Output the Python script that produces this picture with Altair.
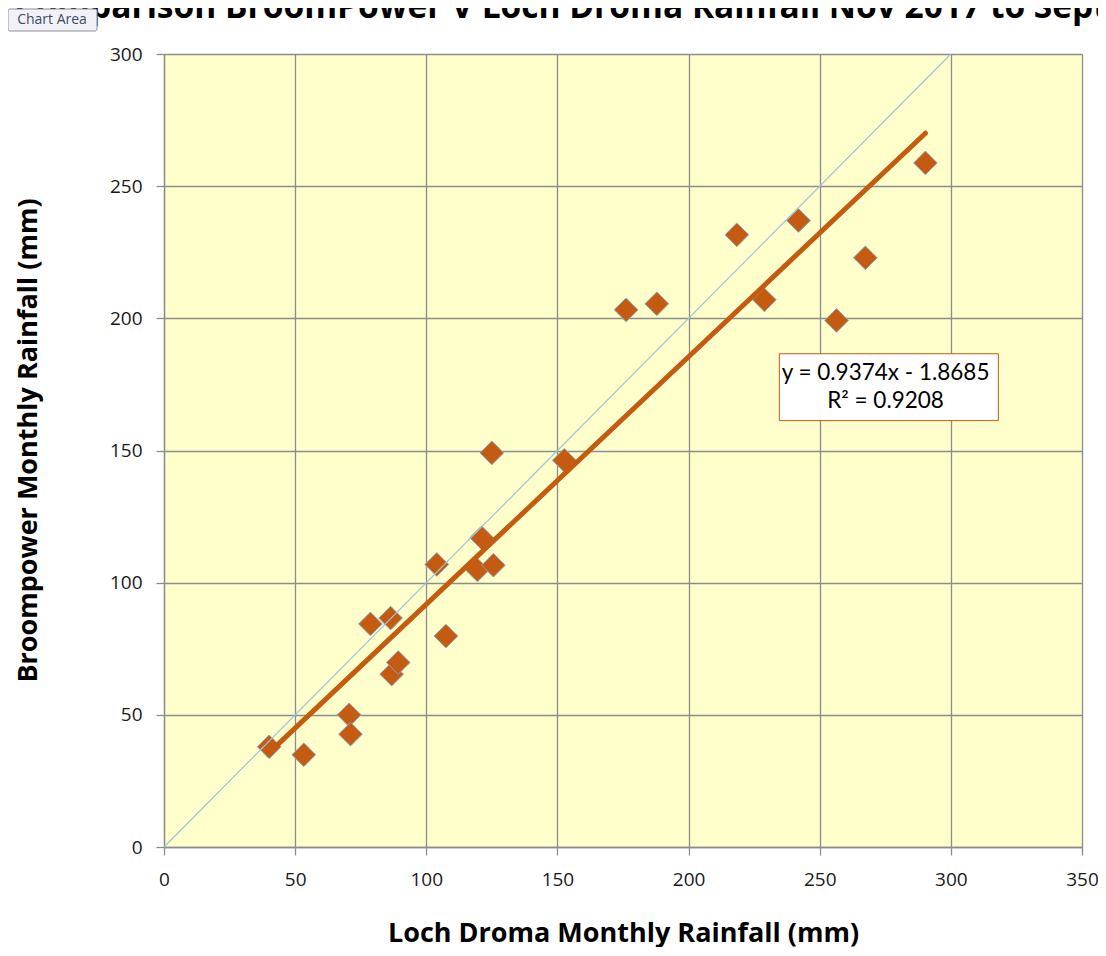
import altair as alt
import pandas as pd

# Monthly rainfall (mm), Nov 2017 - Sept 2019
loch_droma = [40.1, 53.3, 70.6, 71.1, 78.7, 86.4, 86.8, 89.3, 104.0, 107.5, 119.5, 121.1,
              125.0, 125.6, 152.6, 176.2, 187.9, 218.4, 228.9, 241.9, 256.4, 267.4, 290.3]
broompower = [37.9, 34.9, 50.0, 42.7, 84.4, 86.6, 65.4, 69.8, 106.9, 79.8, 104.8, 117.0,
              149.1, 106.6, 146.3, 203.2, 205.5, 231.6, 207.0, 237.0, 199.2, 222.9, 258.8]

diag_x = [0, 300]
diag_y = [0, 300]
x_ticks = [0, 50, 100, 150, 200, 250, 300, 350]
y_ticks = [0, 50, 100, 150, 200, 250, 300]

eq_lines = ["y = 0.9374x - 1.8685", "R² = 0.9208"]
eq_x = [275.1, 275.1]
eq_y = [179.4, 168.6]
box_x = [234.6, 318.1]
box_y = [161.3, 186.6]

title_text = ["Comparison BroomPower V Loch Droma Rainfall Nov 2017 to Sept 2019"]
tooltip_text = ["Chart Area"]

FONT = "Lato"
TFONT = "Open Sans"
ORANGE = "#C55A11"
GRID = "#8c8c8c"

df = pd.DataFrame({"loch": loch_droma, "broom": broompower})
diag_df = pd.DataFrame({"x": diag_x, "y": diag_y})
eq_df = pd.DataFrame({"t": eq_lines, "x": eq_x, "y": eq_y})
box_df = pd.DataFrame({"x": [box_x[0]], "x2": [box_x[1]], "y": [box_y[0]], "y2": [box_y[1]]})
title_df = pd.DataFrame({"t": title_text})
tip_df = pd.DataFrame({"t": tooltip_text})

xscale = alt.Scale(domain=[0, 350], nice=False, zero=True)
yscale = alt.Scale(domain=[0, 300], nice=False, zero=True)

xaxis = alt.Axis(values=x_ticks, title="Loch Droma Monthly Rainfall (mm)", grid=True,
                 gridColor=GRID, gridWidth=1.3, domainColor=GRID, domainWidth=1.3,
                 tickColor=GRID, tickSize=8, tickWidth=1.3, labelFlush=False,
                 labelFont=TFONT, labelFontSize=19, labelColor="#1a1a1a", labelPadding=15,
                 titleFont=TFONT, titleFontSize=27, titleFontWeight="bold", titleColor="#000000",
                 titleY=94, titleBaseline="alphabetic")
yaxis = alt.Axis(values=y_ticks, title="Broompower Monthly Rainfall (mm)", grid=True,
                 gridColor=GRID, gridWidth=1.3, domainColor=GRID, domainWidth=1.3,
                 tickColor=GRID, tickSize=8, tickWidth=1.3, labelFlush=False,
                 labelFont=TFONT, labelFontSize=19, labelColor="#1a1a1a", labelPadding=14,
                 titleFont=TFONT, titleFontSize=27, titleFontWeight="bold", titleColor="#000000",
                 titleAngle=270, titleX=-128, titleY=386, titleAlign="center",
                 titleBaseline="alphabetic")

points = alt.Chart(df).mark_point(
    shape="diamond", filled=True, size=560, fill=ORANGE, stroke="#8aa6bf",
    strokeWidth=1, opacity=1
).encode(
    x=alt.X("loch:Q", scale=xscale, axis=xaxis),
    y=alt.Y("broom:Q", scale=yscale, axis=yaxis),
)

diag = alt.Chart(diag_df).mark_line(color="#9fc4d6", strokeWidth=1.2).encode(
    x=alt.X("x:Q", scale=xscale), y=alt.Y("y:Q", scale=yscale)
)

trend = alt.Chart(df).transform_regression("loch", "broom").mark_line(
    color=ORANGE, strokeWidth=5, strokeCap="round"
).encode(
    x=alt.X("loch:Q", scale=xscale), y=alt.Y("broom:Q", scale=yscale)
)

box = alt.Chart(box_df).mark_rect(fill="#ffffff", stroke=ORANGE, strokeWidth=1).encode(
    x=alt.X("x:Q", scale=xscale), x2="x2:Q",
    y=alt.Y("y:Q", scale=yscale), y2="y2:Q"
)

eq_text = alt.Chart(eq_df).mark_text(
    font=FONT, fontSize=22.5, color="#000000", align="center", baseline="middle"
).encode(
    x=alt.X("x:Q", scale=xscale), y=alt.Y("y:Q", scale=yscale), text="t:N"
)

title = alt.Chart(title_df).mark_text(
    font=TFONT, fontSize=33.5, fontWeight="bold", color="#000000", align="left",
    baseline="alphabetic"
).encode(x=alt.value(-149), y=alt.value(-36), text="t:N")

tip_box = alt.Chart(tip_df).mark_rect(
    fill="#f2f2f6", stroke="#8e8e9e", strokeWidth=1, cornerRadius=2
).encode(x=alt.value(-156), x2=alt.value(-67), y=alt.value(-45), y2=alt.value(-23))

tip_text = alt.Chart(tip_df).mark_text(
    font="Open Sans", fontSize=14, color="#3d4b6b", align="center", baseline="middle"
).encode(x=alt.value(-112), y=alt.value(-34), text="t:N")

chart = alt.layer(points, diag, trend, box, eq_text, title, tip_box, tip_text).properties(
    width=918, height=793,
    autosize=alt.AutoSizeParams(type="none"),
    padding={"left": 156, "top": 46, "right": 16, "bottom": 100},
    background="#ffffff",
).configure_view(fill="#FFFFCC", strokeWidth=0)

chart.save("out.html", embed_options={"renderer": "svg", "actions": False})
